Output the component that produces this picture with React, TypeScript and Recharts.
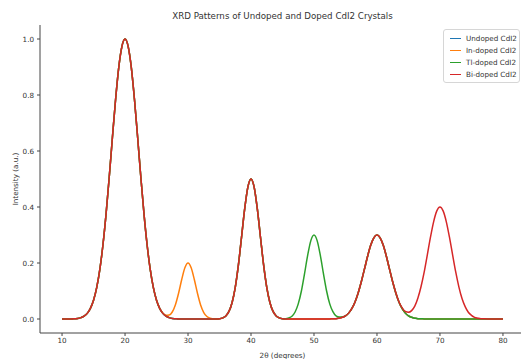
import React from 'react';
import { LineChart, Line, XAxis, YAxis, Legend } from 'recharts';

// 2θ sampling grid (degrees), 0.5° apart, 10 → 80
const twoTheta: number[] = Array.from({ length: 141 }, (_, i) => 10 + i * 0.5);

const undoped: number[] = [
  0, 0, 0, 0, 0.001, 0.002, 0.005, 0.010, 0.020, 0.038,
  0.067, 0.112, 0.177, 0.266, 0.378, 0.509, 0.649, 0.784, 0.898, 0.973,
  1.000, 0.973, 0.898, 0.784, 0.649, 0.509, 0.378, 0.266, 0.177, 0.112,
  0.067, 0.038, 0.020, 0.010, 0.005, 0.002, 0.001, 0, 0, 0,
  0, 0, 0, 0, 0, 0, 0, 0, 0, 0,
  0.001, 0.004, 0.011, 0.027, 0.059, 0.113, 0.193, 0.293, 0.394, 0.471,
  0.500, 0.471, 0.394, 0.293, 0.193, 0.113, 0.059, 0.027, 0.011, 0.004,
  0.001, 0, 0, 0, 0, 0, 0, 0, 0, 0,
  0, 0, 0, 0, 0, 0, 0.001, 0.001, 0.003, 0.006,
  0.011, 0.021, 0.037, 0.060, 0.092, 0.132, 0.177, 0.223, 0.263, 0.290,
  0.300, 0.290, 0.263, 0.223, 0.177, 0.132, 0.092, 0.060, 0.037, 0.021,
  0.011, 0.006, 0.003, 0.001, 0.001, 0, 0, 0, 0, 0,
  0, 0, 0, 0, 0, 0, 0, 0, 0, 0,
  0, 0, 0, 0, 0, 0, 0, 0, 0, 0,
  0,
];

const inDoped: number[] = [
  0, 0, 0, 0, 0.001, 0.002, 0.005, 0.010, 0.020, 0.038,
  0.067, 0.112, 0.177, 0.266, 0.378, 0.509, 0.649, 0.784, 0.898, 0.973,
  1.000, 0.973, 0.898, 0.784, 0.649, 0.509, 0.378, 0.266, 0.177, 0.112,
  0.067, 0.038, 0.021, 0.013, 0.014, 0.025, 0.051, 0.092, 0.141, 0.183,
  0.200, 0.183, 0.141, 0.092, 0.050, 0.023, 0.009, 0.003, 0.001, 0,
  0.001, 0.004, 0.011, 0.027, 0.059, 0.113, 0.193, 0.293, 0.394, 0.471,
  0.500, 0.471, 0.394, 0.293, 0.193, 0.113, 0.059, 0.027, 0.011, 0.004,
  0.001, 0, 0, 0, 0, 0, 0, 0, 0, 0,
  0, 0, 0, 0, 0, 0, 0.001, 0.001, 0.003, 0.006,
  0.011, 0.021, 0.037, 0.060, 0.092, 0.132, 0.177, 0.223, 0.263, 0.290,
  0.300, 0.290, 0.263, 0.223, 0.177, 0.132, 0.092, 0.060, 0.037, 0.021,
  0.011, 0.006, 0.003, 0.001, 0.001, 0, 0, 0, 0, 0,
  0, 0, 0, 0, 0, 0, 0, 0, 0, 0,
  0, 0, 0, 0, 0, 0, 0, 0, 0, 0,
  0,
];

const tlDoped: number[] = [
  0, 0, 0, 0, 0.001, 0.002, 0.005, 0.010, 0.020, 0.038,
  0.067, 0.112, 0.177, 0.266, 0.378, 0.509, 0.649, 0.784, 0.898, 0.973,
  1.000, 0.973, 0.898, 0.784, 0.649, 0.509, 0.378, 0.266, 0.177, 0.112,
  0.067, 0.038, 0.020, 0.010, 0.005, 0.002, 0.001, 0, 0, 0,
  0, 0, 0, 0, 0, 0, 0, 0, 0, 0,
  0.001, 0.004, 0.011, 0.027, 0.059, 0.113, 0.193, 0.293, 0.394, 0.471,
  0.500, 0.471, 0.394, 0.293, 0.193, 0.113, 0.059, 0.027, 0.011, 0.004,
  0.001, 0.001, 0.004, 0.010, 0.025, 0.054, 0.100, 0.162, 0.228, 0.280,
  0.300, 0.280, 0.228, 0.162, 0.100, 0.054, 0.026, 0.011, 0.007, 0.007,
  0.011, 0.021, 0.037, 0.060, 0.092, 0.132, 0.177, 0.223, 0.263, 0.290,
  0.300, 0.290, 0.263, 0.223, 0.177, 0.132, 0.092, 0.060, 0.037, 0.021,
  0.011, 0.006, 0.003, 0.001, 0.001, 0, 0, 0, 0, 0,
  0, 0, 0, 0, 0, 0, 0, 0, 0, 0,
  0, 0, 0, 0, 0, 0, 0, 0, 0, 0,
  0,
];

const biDoped: number[] = [
  0, 0, 0, 0, 0.001, 0.002, 0.005, 0.010, 0.020, 0.038,
  0.067, 0.112, 0.177, 0.266, 0.378, 0.509, 0.649, 0.784, 0.898, 0.973,
  1.000, 0.973, 0.898, 0.784, 0.649, 0.509, 0.378, 0.266, 0.177, 0.112,
  0.067, 0.038, 0.020, 0.010, 0.005, 0.002, 0.001, 0, 0, 0,
  0, 0, 0, 0, 0, 0, 0, 0, 0, 0,
  0.001, 0.004, 0.011, 0.027, 0.059, 0.113, 0.193, 0.293, 0.394, 0.471,
  0.500, 0.471, 0.394, 0.293, 0.193, 0.113, 0.059, 0.027, 0.011, 0.004,
  0.001, 0, 0, 0, 0, 0, 0, 0, 0, 0,
  0, 0, 0, 0, 0, 0, 0.001, 0.001, 0.003, 0.006,
  0.011, 0.021, 0.037, 0.060, 0.092, 0.132, 0.177, 0.223, 0.263, 0.290,
  0.300, 0.290, 0.263, 0.223, 0.177, 0.132, 0.093, 0.061, 0.040, 0.027,
  0.024, 0.030, 0.046, 0.075, 0.116, 0.168, 0.230, 0.293, 0.348, 0.386,
  0.400, 0.386, 0.348, 0.293, 0.230, 0.168, 0.115, 0.073, 0.044, 0.024,
  0.013, 0.006, 0.003, 0.001, 0.001, 0, 0, 0, 0, 0,
  0,
];

const xTicks: number[] = [10, 20, 30, 40, 50, 60, 70, 80];
const yTicks: number[] = [0, 0.2, 0.4, 0.6, 0.8, 1.0];

const seriesNames: string[] = ['Undoped CdI2', 'In-doped CdI2', 'Tl-doped CdI2', 'Bi-doped CdI2'];
const seriesKeys: string[] = ['undoped', 'inDoped', 'tlDoped', 'biDoped'];
const seriesColors: string[] = ['#1f77b4', '#ff7f0e', '#2ca02c', '#d62728'];

const data = twoTheta.map((x, i) => ({
  x,
  undoped: undoped[i],
  inDoped: inDoped[i],
  tlDoped: tlDoped[i],
  biDoped: biDoped[i],
}));

const FONT = '"DejaVu Sans", sans-serif';
const TEXT = '#333';
const AXIS = '#444';

const LegendBox = () => (
  <div
    style={{
      width: 77,
      height: 54,
      boxSizing: 'border-box',
      border: '1px solid #d6d6d6',
      borderRadius: 3,
      background: 'rgba(255,255,255,0.8)',
      fontFamily: FONT,
      fontSize: 7.2,
      color: TEXT,
      paddingTop: 2,
      paddingLeft: 6,
    }}
  >
    {seriesNames.map((name, i) => (
      <div key={name} style={{ display: 'flex', alignItems: 'center', height: 12, whiteSpace: 'nowrap' }}>
        <span style={{ display: 'inline-block', width: 11, height: 0, borderTop: `1.5px solid ${seriesColors[i]}`, marginRight: 5 }} />
        <span>{name}</span>
      </div>
    ))}
  </div>
);

export default function App() {
  return (
    <div style={{ position: 'absolute', left: 0, top: 0, width: 521, height: 359, overflow: 'hidden', background: '#fff' }}>
      <div
        style={{
          position: 'absolute',
          left: 40,
          width: 485,
          top: 11,
          textAlign: 'center',
          fontFamily: FONT,
          fontSize: 8.7,
          color: TEXT,
          lineHeight: '11px',
          zIndex: 2,
        }}
      >
        XRD Patterns of Undoped and Doped CdI2 Crystals
      </div>
      <LineChart width={540} height={359} data={data} margin={{ top: 25, right: 15, left: 0, bottom: 0 }}>
        <XAxis
          dataKey="x"
          type="number"
          domain={[6.5, 83.5]}
          ticks={xTicks}
          allowDataOverflow
          height={26}
          tickSize={3}
          tickMargin={2}
          stroke={AXIS}
          tick={{ fill: TEXT, fontSize: 7.2, fontFamily: FONT }}
          label={{ value: '2θ (degrees)', position: 'insideBottom', offset: 1, fill: TEXT, fontSize: 7.2, fontFamily: FONT }}
        />
        <XAxis
          xAxisId="top"
          orientation="top"
          dataKey="x"
          type="number"
          domain={[6.5, 83.5]}
          height={0}
          tick={false}
          tickLine={false}
          stroke={AXIS}
        />
        <YAxis
          type="number"
          domain={[-0.05, 1.05]}
          ticks={yTicks}
          allowDataOverflow
          width={40}
          tickSize={3}
          tickMargin={3}
          stroke={AXIS}
          tickFormatter={(v: number) => v.toFixed(1)}
          tick={{ fill: TEXT, fontSize: 7.2, fontFamily: FONT }}
          label={{
            value: 'Intensity (a.u.)',
            angle: -90,
            position: 'insideLeft',
            offset: 15,
            fill: TEXT,
            fontSize: 7.2,
            fontFamily: FONT,
            style: { textAnchor: 'middle' },
          }}
        />
        <Legend
          layout="horizontal"
          verticalAlign="middle"
          align="center"
          content={() => <LegendBox />}
          wrapperStyle={{ position: 'absolute', left: 443, top: 29, width: 77, height: 54 }}
        />
        {seriesKeys.map((k, i) => (
          <Line
            key={k}
            type="monotone"
            dataKey={k}
            name={seriesNames[i]}
            stroke={seriesColors[i]}
            strokeWidth={1.5}
            dot={false}
            activeDot={false}
            isAnimationActive={false}
          />
        ))}
      </LineChart>
    </div>
  );
}
